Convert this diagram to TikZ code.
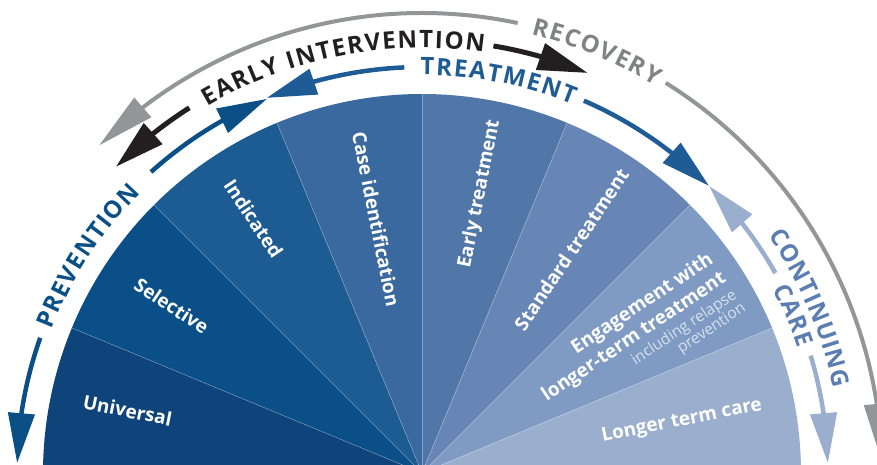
\documentclass[tikz,border=0pt]{standalone}
\usepackage{fontspec}
\setmainfont{Open Sans}
\usetikzlibrary{arrows.meta,bending,decorations.text}
\definecolor{cA}{HTML}{0E4479}
\definecolor{cB}{HTML}{0A4F87}
\definecolor{cC}{HTML}{1D5B93}
\definecolor{cD}{HTML}{39699F}
\definecolor{cE}{HTML}{5077A8}
\definecolor{cF}{HTML}{6886B5}
\definecolor{cG}{HTML}{7F9BC3}
\definecolor{cH}{HTML}{9AAECE}
\definecolor{prevc}{HTML}{0B4F87}
\definecolor{treatc}{HTML}{1F5C96}
\definecolor{contc}{HTML}{9AAECE}
\definecolor{conttext}{HTML}{5B7DB1}
\definecolor{eiblack}{HTML}{231F20}
\definecolor{recarc}{HTML}{939598}
\definecolor{rectext}{HTML}{808285}
\definecolor{smallc}{HTML}{D8E0EE}
\newcommand{\bandfnt}{\fontsize{24}{24}\selectfont\bfseries}
\newcommand{\smallfnt}{\fontsize{15.5}{17}\selectfont\mdseries\color{smallc}}
\tikzset{
  lbl/.style={text=white, font=\fontsize{19}{23}\selectfont\bfseries, inner sep=0pt},
  bluearr/.style={line width=4.5pt, -{Triangle[length=50pt,width=26pt]}},
  blackarr/.style={line width=5pt, eiblack, -{Triangle[length=50pt,width=27pt]}},
  grayarr/.style={line width=4pt, recarc, -{Triangle[length=58pt,width=25pt]}},
  bandtext/.style n args={3}{decorate, decoration={text effects along path,
     text={#1}, text align=center, text effects/.cd, text along path,
     characters={text=#2, font=\bandfnt, inner sep=0pt, anchor=base},
     character widths={font=\bandfnt, inner sep=0pt, inner xsep=#3}}}
}
\begin{document}
\begin{tikzpicture}[x=1pt,y=1pt]
\useasboundingbox (-422,8) rectangle (455,473);
\begin{scope}
\clip (-422,8) rectangle (455,473);
% sectors
\foreach \a/\c in {157.5/cA,135/cB,112.5/cC,90/cD,67.5/cE,45/cF,22.5/cG,0/cH}
  \fill[\c] (0,0) -- (\a:379) arc[start angle=\a, end angle=\a+22.5, radius=379] -- cycle;
\foreach \a in {22.5,45,67.5,90,112.5,135,157.5}
  \draw[white, opacity=.3, line width=.6pt] (0,0) -- (\a:379);
% sector labels
\node[lbl, rotate=-11.25] (univ) at (168:301) {Universal};
\node[lbl, rotate=-33.75] (sel) at (146.25:301) {Selective};
\node[lbl, rotate=-56.25] (ind) at (123.5:305) {Indicated};
\node[lbl, rotate=-78.75] (case) at (100.2:258) {Case identification};
\node[lbl, rotate=78.75] (early) at (78.3:285) {Early treatment};
\node[lbl, rotate=56.25] (std) at (56.25:269) {Standard treatment};
\node[lbl, rotate=33.75, align=right] (eng) at (31.3:252)
  {Engagement with\\longer-term treatment\\[-4pt]{\smallfnt including relapse}\\[-7pt]{\smallfnt prevention}};
\node[lbl, rotate=11.25] (ltc) at (11.25:265) {Longer term care};
% inner band arrows
\draw[bluearr, prevc] (160.5:405) arc[start angle=160.5, end angle=178.6, radius=405];
\draw[bluearr, prevc] (132:405) arc[start angle=132, end angle=112.5, radius=405];
\draw[bluearr, treatc] (92.5:406) arc[start angle=92.5, end angle=112.5, radius=406];
\draw[bluearr, treatc] (66.5:406) arc[start angle=66.5, end angle=45, radius=406];
\draw[bluearr, contc] (29.5:406) arc[start angle=29.5, end angle=45, radius=406];
\draw[bluearr, contc] (16.8:406) arc[start angle=16.8, end angle=1.4, radius=406];
% early intervention
\draw[blackarr] (122.5:433) arc[start angle=122.5, end angle=135, radius=433];
\draw[blackarr] (80.5:433) arc[start angle=80.5, end angle=67.5, radius=433];
% recovery
\draw[grayarr] (78:460) arc[start angle=78, end angle=134.6, radius=460];
\draw[grayarr] (58:460) arc[start angle=58, end angle=1.4, radius=460];
% band texts
\path[bandtext={PREVENTION}{prevc}{0.6pt}] (175:397) arc[start angle=175, end angle=119, radius=397];
\path[bandtext={TREATMENT}{treatc}{0.8pt}] (106:398) arc[start angle=106, end angle=52, radius=398];
\path[bandtext={EARLY INTERVENTION}{eiblack}{0.8pt}] (141:425) arc[start angle=141, end angle=61, radius=425];
\path[bandtext={RECOVERY}{rectext}{0.8pt}] (92:452) arc[start angle=92, end angle=43, radius=452];
\path[bandtext={CONTINUING}{conttext}{0.5pt}] (48:420) arc[start angle=48, end angle=-2, radius=420];
\path[bandtext={CARE}{conttext}{0.5pt}] (40:396) arc[start angle=40, end angle=6, radius=396];
\end{scope}
\end{tikzpicture}
\end{document}
